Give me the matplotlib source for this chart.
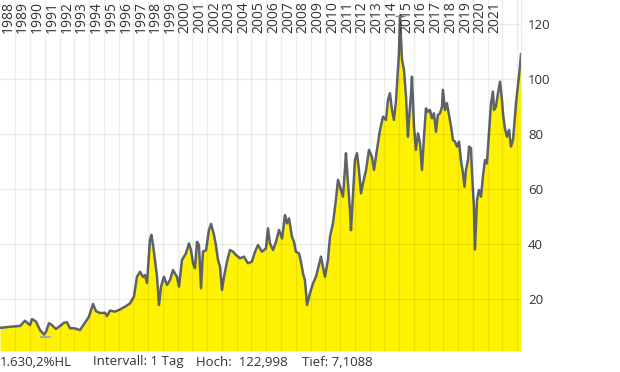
import matplotlib.pyplot as plt
import numpy as np

# price history (decimal year, value)
years = [
    1987.96, 1988.64, 1989.32, 1989.65, 1989.99, 1990.13, 1990.40, 1990.67, 1990.94, 1991.08,
    1991.28, 1991.48, 1991.75, 1992.03, 1992.30, 1992.50, 1992.70, 1993.04, 1993.38, 1993.72,
    1993.99, 1994.26, 1994.46, 1994.74, 1995.07, 1995.21, 1995.41, 1995.75, 1996.09, 1996.43,
    1996.77, 1997.04, 1997.24, 1997.45, 1997.65, 1997.78, 1997.92, 1998.12, 1998.22, 1998.33,
    1998.46, 1998.60, 1998.73, 1998.87, 1999.07, 1999.27, 1999.48, 1999.68, 1999.95, 2000.09,
    2000.29, 2000.56, 2000.76, 2000.90, 2001.04, 2001.17, 2001.31, 2001.44, 2001.58, 2001.71,
    2001.92, 2002.12, 2002.26, 2002.46, 2002.59, 2002.73, 2002.87, 2003.00, 2003.14, 2003.34,
    2003.54, 2003.75, 2003.95, 2004.22, 2004.49, 2004.76, 2005.03, 2005.24, 2005.44, 2005.71,
    2005.98, 2006.12, 2006.25, 2006.46, 2006.66, 2006.86, 2007.07, 2007.27, 2007.40, 2007.54,
    2007.74, 2007.88, 2008.01, 2008.22, 2008.35, 2008.49, 2008.62, 2008.69, 2008.76, 2008.96,
    2009.17, 2009.37, 2009.57, 2009.71, 2009.84, 2009.98, 2010.18, 2010.32, 2010.52, 2010.72,
    2010.86, 2011.00, 2011.20, 2011.33, 2011.40, 2011.54, 2011.67, 2011.74, 2011.88, 2012.01,
    2012.15, 2012.28, 2012.42, 2012.55, 2012.76, 2012.96, 2013.16, 2013.30, 2013.50, 2013.71,
    2013.91, 2014.11, 2014.25, 2014.38, 2014.52, 2014.65, 2014.79, 2014.92, 2014.99, 2015.06,
    2015.20, 2015.33, 2015.47, 2015.60, 2015.67, 2015.81, 2015.87, 2016.01, 2016.14, 2016.28,
    2016.42, 2016.55, 2016.69, 2016.82, 2016.96, 2017.09, 2017.23, 2017.36, 2017.50, 2017.63,
    2017.77, 2017.91, 2017.97, 2018.11, 2018.24, 2018.38, 2018.52, 2018.65, 2018.79, 2018.92,
    2019.06, 2019.19, 2019.33, 2019.43, 2019.53, 2019.67, 2019.74, 2019.87, 2019.94, 2020.07,
    2020.14, 2020.28, 2020.41, 2020.55, 2020.68, 2020.82, 2020.95, 2021.09, 2021.23, 2021.36,
    2021.43, 2021.56, 2021.70, 2021.84, 2021.97, 2022.04, 2022.17, 2022.31, 2022.45, 2022.58,
    2022.72, 2022.85, 2022.92, 2023.06, 2023.12, 2023.19, 2023.26,
]
values = [
    9.5, 9.9, 10.2, 12.1, 10.5, 12.7, 11.8, 8.7, 7.1, 8.1,
    11.2, 10.5, 9.1, 10.2, 11.4, 11.5, 9.4, 9.3, 8.7, 11.4,
    13.6, 18.2, 15.6, 14.9, 15.0, 13.8, 15.8, 15.4, 16.2, 17.2,
    18.4, 21.0, 28.1, 29.9, 28.0, 28.7, 25.8, 41.5, 43.3, 39.6,
    34.2, 28.1, 17.8, 24.5, 28.1, 25.1, 26.9, 30.5, 28.1, 24.5,
    34.2, 36.6, 40.2, 37.8, 33.0, 31.2, 40.8, 39.6, 23.9, 37.2,
    37.8, 45.1, 47.3, 43.3, 39.6, 34.2, 31.7, 23.3, 28.1, 33.6,
    37.8, 37.2, 36.0, 34.8, 35.4, 33.0, 33.6, 37.2, 39.6, 37.2,
    38.4, 45.7, 40.2, 37.8, 40.8, 45.1, 42.0, 50.5, 47.5, 49.3,
    42.7, 40.8, 37.2, 36.6, 33.6, 29.3, 26.9, 22.7, 17.8, 22.1,
    25.7, 28.1, 32.4, 35.4, 31.7, 28.1, 34.2, 42.7, 47.5, 56.0,
    63.3, 60.8, 57.2, 66.9, 73.0, 62.0, 52.4, 45.0, 58.4, 70.5,
    73.0, 66.9, 58.4, 62.0, 66.9, 74.2, 71.7, 66.9, 74.2, 81.5,
    86.3, 85.1, 92.4, 94.8, 88.7, 85.1, 92.0, 103.3, 109.3, 123.0,
    106.9, 103.3, 93.6, 79.0, 85.1, 94.8, 100.8, 82.7, 74.2, 80.2,
    76.6, 66.9, 79.0, 89.3, 88.1, 88.7, 85.7, 87.5, 80.8, 86.9,
    87.5, 89.9, 96.0, 88.7, 91.2, 86.9, 82.7, 77.8, 77.2, 75.4,
    77.2, 70.5, 65.7, 60.8, 66.9, 70.5, 75.4, 74.8, 65.7, 53.6,
    38.0, 56.0, 59.6, 57.2, 64.5, 70.5, 69.3, 80.2, 91.2, 95.4,
    88.7, 89.9, 94.8, 99.0, 92.4, 87.5, 82.1, 79.0, 81.5, 75.4,
    77.8, 86.3, 91.2, 97.8, 100.8, 104.5, 109.0,
]
year_labels = list(range(1988, 2022))
y_ticks = [20, 40, 60, 80, 100, 120]
info_texts = ['1.630,2%HL', 'Intervall: 1 Tag', 'Hoch:  122,998', 'Tief: 7,1088']

plt.rcParams['font.family'] = ['Open Sans', 'DejaVu Sans']

t = np.array(years)
v = np.array(values)
y_lo, y_hi = 1.1, 128.7

fig = plt.figure(figsize=(6.2, 3.72), dpi=100)
ax = fig.add_axes([0, 0.0565, 521 / 620, 0.9435])

ax.fill_between(t, y_lo, v, color='#fff200', lw=0, zorder=1)
ax.plot(t, v, color='#5d6368', lw=1.8, zorder=2)

# high / low markers
i_hi, i_lo = np.argmax(v), np.argmin(v)
ax.hlines(v[i_hi], t[i_hi] - 0.35, t[i_hi] + 0.35, color='#8a8e92', lw=1, zorder=3)
ax.hlines(v[i_lo] - 0.8, t[i_lo] - 0.3, t[i_lo] + 0.45, color='#b0b0b0', lw=1.5, zorder=3)

ax.set_xlim(t[0], t[-1])
ax.set_ylim(y_lo, y_hi)

# grid on top, semi-transparent
for yr in range(1989, 2024):
    ax.axvline(yr, color='black', alpha=0.07, lw=1, zorder=4)
for yt in y_ticks:
    ax.axhline(yt, color='black', alpha=0.07, lw=1, zorder=4)

ax.set_xticks([])
ax.yaxis.tick_right()
ax.set_yticks(y_ticks)
ax.set_yticklabels([str(y) for y in y_ticks], fontsize=9.5, color='#333333')
ax.tick_params(axis='y', length=0, pad=5)
for s in ['top', 'left', 'bottom']:
    ax.spines[s].set_visible(False)
ax.spines['right'].set_color('#ececec')

for yr in year_labels:
    ax.text(yr + 0.5, y_hi - 0.3, str(yr), rotation=90, ha='center', va='top',
            fontsize=10, color='#333333', zorder=5)

xs = [0, 93, 196, 302]
for x, s in zip(xs, info_texts):
    fig.text(x / 620, 1 - 362 / 372, s, fontsize=9.5, color='#333333', va='center', ha='left')

fig.savefig('out.png', dpi=100, facecolor='white')
